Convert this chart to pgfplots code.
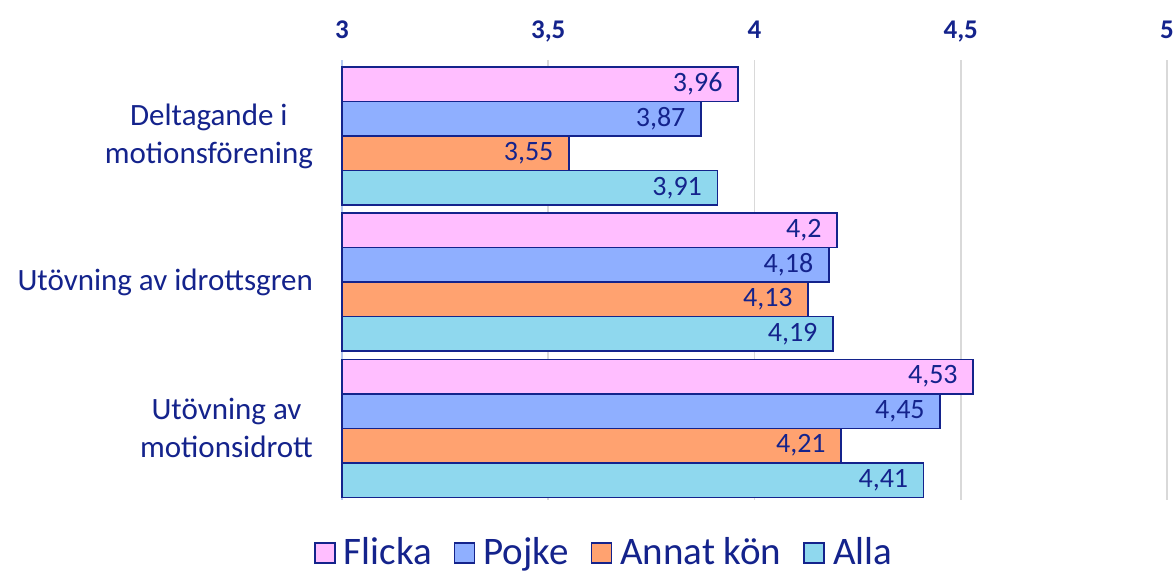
\documentclass[border=0pt]{standalone}
\usepackage{pgfplots}
\pgfplotsset{compat=1.18}
\usepackage{fontspec}
\setmainfont{Carlito}
\definecolor{navy}{RGB}{20,35,140}
\definecolor{cFlicka}{RGB}{255,190,255}
\definecolor{cPojke}{RGB}{143,175,255}
\definecolor{cAnnat}{RGB}{255,162,112}
\definecolor{cAlla}{RGB}{143,216,238}
\definecolor{gridc}{RGB}{217,217,217}
\definecolor{axc}{RGB}{180,200,240}
\begin{document}
\begin{tikzpicture}
\begin{axis}[
  scale only axis,
  width=412.5pt, height=220pt,
  xbar, bar width=0.236,
  xmin=3, xmax=5,
  ymin=-0.52, ymax=2.49,
  y dir=reverse,
  ytick={0,1,2},
  yticklabels={{Deltagande i\\motionsförening},{Utövning av idrottsgren},{Utövning av\\motionsidrott}},
  yticklabel style={align=center, font=\fontsize{15.5}{19}\selectfont, text=navy, xshift=-11pt},
  xtick={3,3.5,4,4.5,5},
  axis x line*=top,
  axis y line*=left,
  x axis line style={draw=none},
  y axis line style={draw=axc, line width=0.8pt},
  major tick length=0pt,
  xmajorgrids, grid style={gridc, line width=0.8pt},
  xticklabel style={font=\bfseries\fontsize{13.5}{16}\selectfont, text=navy, anchor=base, yshift=11pt},
  /pgf/number format/use comma,
  /pgf/number format/assume math mode=true,
  nodes near coords,
  nodes near coords style={anchor=east, font=\fontsize{14}{16}\selectfont, text=navy, xshift=-4pt,
     /pgf/number format/use comma, /pgf/number format/assume math mode=true},
  every axis plot/.append style={draw=navy, line width=0.8pt},
  legend style={draw=none, at={(0.319,-0.12)}, anchor=center, legend columns=4,
     font=\fontsize{19.5}{22}\selectfont, text=navy,
     /tikz/every even column/.append style={column sep=9pt},
     /tikz/every odd column/.append style={column sep=2pt}},
  legend image code/.code={\draw[#1, draw=navy, line width=0.8pt] (0pt,-5pt) rectangle (10pt,5pt);},
  clip=false,
]
\addplot[fill=cFlicka, bar shift=-0.354] coordinates {(3.96,0) (4.2,1) (4.53,2)};
\addplot[fill=cPojke, bar shift=-0.118] coordinates {(3.87,0) (4.18,1) (4.45,2)};
\addplot[fill=cAnnat, bar shift=0.118] coordinates {(3.55,0) (4.13,1) (4.21,2)};
\addplot[fill=cAlla, bar shift=0.354] coordinates {(3.91,0) (4.19,1) (4.41,2)};
\legend{Flicka,Pojke,Annat kön,Alla}
\end{axis}
\pgfresetboundingbox
\useasboundingbox ([shift={(-171pt,-36.5pt)}]current axis.south west) rectangle ([shift={(3pt,30pt)}]current axis.north east);
\end{tikzpicture}
\end{document}
